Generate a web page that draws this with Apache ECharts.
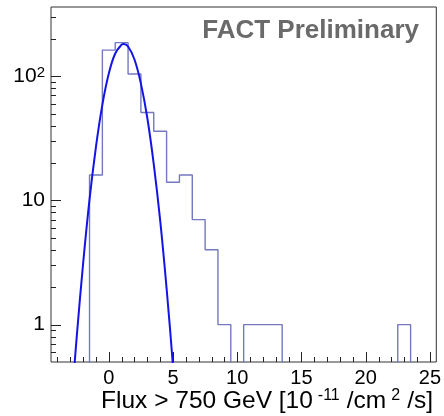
<!DOCTYPE html>
<html>
<head>
<meta charset="utf-8">
<script src="https://cdn.jsdelivr.net/npm/echarts@6/dist/echarts.min.js"></script>
<style>
  html, body { margin: 0; padding: 0; background: #fff; }
  #chart { width: 444px; height: 416px; }
</style>
</head>
<body>
<div id="chart"></div>
<script>
// histogram: bin centres (width 1) and counts
const binCenters = [-4, -3, -2, -1, 0, 1, 2, 3, 4, 5, 6, 7, 8, 9, 10, 11, 12, 13, 14,
  15, 16, 17, 18, 19, 20, 21, 22, 23, 24, 25];
const counts = [0, 0, 0, 16, 162, 186, 104, 51, 36, 14, 16, 7, 4, 1, 0, 1, 1, 1, 0,
  0, 0, 0, 0, 0, 0, 0, 0, 1, 0, 0];

// gaussian fit curve
const fitX = [-2.75, -2.5, -2, -1.5, -1, -0.5, 0, 0.5, 1, 1.15, 1.5, 2, 2.5, 3, 3.5, 4, 4.5, 5, 5.25];
const fitY = [0.37, 0.79, 3.1, 10.2, 27, 59, 105, 152, 179, 181, 173, 136, 87, 46, 19.6, 6.9, 1.96, 0.46, 0.2];

// ticks
const xMajorTicks = [0, 5, 10, 15, 20, 25];
const xMinorTicks = [-4, -3, -2, -1, 1, 2, 3, 4, 6, 7, 8, 9, 11, 12, 13, 14, 16, 17, 18, 19,
  21, 22, 23, 24];
const yMajorTicks = [1, 10, 100];
const yMinorTicks = [0.6, 0.7, 0.8, 0.9, 2, 3, 4, 5, 6, 7, 8, 9, 20, 30, 40, 50, 60, 70, 80, 90, 200, 300];

const X_MIN = -4.5, X_MAX = 25.5;
const Y_MIN = 0.5, Y_MAX = 360;
const FONT = 'Liberation Sans';

// step points at the left edge of each bin; empty bins go below the frame
const histData = binCenters.map((c, i) => [c - 0.5, counts[i] > 0 ? counts[i] : 0.05]);
histData.push([binCenters[binCenters.length - 1] + 0.5, histData[histData.length - 1][1]]);

const fitData = fitX.map((x, i) => [x, fitY[i]]);

// ROOT style ticks inside the frame, placed through the axes' scales
function tickSeries(values, onX, len) {
  return {
    type: 'custom',
    silent: true,
    z: 10,
    data: values.map(v => (onX ? [v, Y_MIN] : [X_MIN, v])),
    renderItem: (params, api) => {
      const p = api.coord([api.value(0), api.value(1)]);
      const x = Math.round(p[0]);
      const y = Math.round(p[1]);
      const shape = onX
        ? {x: x, y: y - len, width: 1, height: len}
        : {x: x, y: y, width: len, height: 1};
      return {type: 'rect', shape, style: {fill: '#222'}};
    }
  };
}

const chart = echarts.init(document.getElementById('chart'), null, {renderer: 'canvas'});

chart.setOption({
  animation: false,
  backgroundColor: '#fff',
  title: [
    {
      text: 'FACT Preliminary',
      right: 20,
      top: 13,
      textStyle: {fontFamily: FONT, fontSize: 26, fontWeight: 'bold', color: '#6a6a6a'}
    },
    {
      text: 'Flux > 750 GeV [10{sup|-11}/cm{sup|2}/s]',
      right: 11,
      top: 388,
      padding: 0,
      textStyle: {
        fontFamily: FONT, fontSize: 24.5, fontWeight: 'normal', color: '#000', lineHeight: 26,
        rich: {
          sup: {fontFamily: FONT, fontSize: 16, fontWeight: 'normal', lineHeight: 14,
            verticalAlign: 'top', color: '#000', padding: [0, 7, 0, 5]}
        }
      }
    }
  ],
  grid: {
    left: 51, right: 7, top: 7, bottom: 54,
    show: true, borderColor: '#333', borderWidth: 1
  },
  xAxis: {
    type: 'value', min: X_MIN, max: X_MAX,
    axisLine: {show: false},
    axisTick: {show: false},
    axisLabel: {customValues: xMajorTicks, margin: 6, fontFamily: FONT, fontSize: 20, color: '#000'},
    splitLine: {show: false}
  },
  yAxis: {
    type: 'log', logBase: 10, min: Y_MIN, max: Y_MAX,
    axisLine: {show: false},
    axisTick: {show: false},
    axisLabel: {
      customValues: yMajorTicks, margin: 6, fontFamily: FONT, fontSize: 21, color: '#000',
      formatter: v => (v >= 100 ? '10{sup|2}' : String(Math.round(v))),
      rich: {sup: {fontFamily: FONT, fontSize: 15, lineHeight: 14, verticalAlign: 'top', color: '#000'}}
    },
    splitLine: {show: false}
  },
  series: [
    {
      name: 'histogram',
      type: 'line',
      step: 'end',
      data: histData,
      showSymbol: false,
      clip: true,
      lineStyle: {color: '#7478c0', width: 1.4}
    },
    {
      name: 'fit',
      type: 'line',
      smooth: 0.4,
      data: fitData,
      showSymbol: false,
      clip: true,
      lineStyle: {color: '#1414e6', width: 2}
    },
    tickSeries(xMajorTicks, true, 10),
    tickSeries(xMinorTicks, true, 5),
    tickSeries(yMajorTicks, false, 10),
    tickSeries(yMinorTicks, false, 5)
  ]
});
</script>
</body>
</html>
